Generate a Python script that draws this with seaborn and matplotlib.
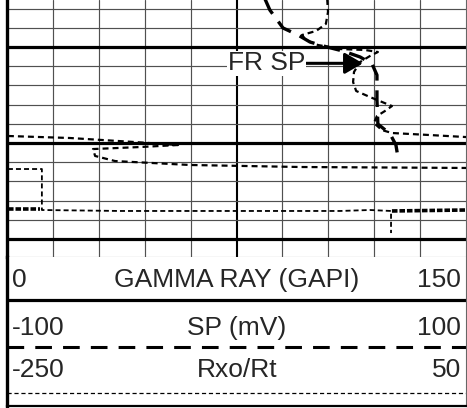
import matplotlib
matplotlib.use("Agg")
import matplotlib.pyplot as plt
import seaborn as sns
import pandas as pd

# ------------------------------------------------------------
# data (track x in gamma ray units 0-150, depth in ft)
# ------------------------------------------------------------
gr_upper_x = [104.6, 104.9, 104.2, 101.0, 96.4, 97.7, 101.6, 108.8, 117.0, 121.2,
              118.6, 115.4, 113.4, 113.1, 114.1, 118.6, 125.8, 123.5, 120.9, 119.9,
              122.5, 125.8, 138.2, 150.0]
gr_upper_depth = [5344.79, 5346.35, 5347.60, 5348.33, 5348.75, 5349.27, 5349.79, 5350.21,
                  5350.31, 5350.52, 5350.94, 5351.56, 5352.60, 5353.65, 5354.58, 5355.21,
                  5356.15, 5356.67, 5357.19, 5357.92, 5358.65, 5358.96, 5359.17, 5359.38]

# gamma ray wrapped onto backup scale
gr_wrap_x = [0.3, 20.6, 41.8, 55.9, 43.5, 28.1, 28.8, 35.3, 59.8, 95.8, 150.0]
gr_wrap_depth = [5359.27, 5359.48, 5359.90, 5360.21, 5360.42, 5360.63, 5361.35,
                 5361.88, 5362.29, 5362.50, 5362.60]

sp_x = [83.3, 85.9, 90.2, 95.1, 99.0, 104.6, 109.8, 115.4, 119.3, 120.9, 120.9,
        121.2, 125.2, 127.1, 127.8]
sp_depth = [5344.27, 5346.15, 5348.02, 5348.75, 5349.48, 5350.00, 5350.42, 5351.04,
            5351.77, 5352.92, 5355.52, 5358.02, 5359.06, 5360.21, 5361.56]

rxo_x = [0.3, 11.4, 11.4, 36.9, 79.4, 108.8, 118.6, 125.5, 125.5]
rxo_depth = [5362.71, 5362.71, 5366.98, 5367.08, 5367.08, 5367.08, 5366.98,
             5367.08, 5369.38]

# overlapping (heavy) pieces
heavy_left_x = [0.3, 10.8]
heavy_left_depth = [5366.88, 5366.88]
heavy_right_x = [125.8, 150.0]
heavy_right_depth = [5367.08, 5366.98]

fr_sp_label = "FR SP"
fr_sp_text_x, fr_sp_tip_x, fr_sp_depth = 72.2, 116.3, 5351.7

scale_titles = ["GAMMA RAY (GAPI)", "SP (mV)", "Rxo/Rt"]
scale_left = ["0", "-100", "-250"]
scale_right = ["150", "100", "50"]

# ------------------------------------------------------------
sns.set_style("white")
plt.rcParams["font.family"] = ["Liberation Sans", "DejaVu Sans"]
plt.rcParams["lines.scale_dashes"] = False

fig = plt.figure(figsize=(4.67, 4.08), dpi=100)
W, H = 467.0, 408.0
ax = fig.add_axes([7 / W, 1 - 257 / H, 459 / W, 257 / H])
hd = fig.add_axes([7 / W, 1 - 406 / H, 459 / W, 149 / H])

# track grid
ax.set_xlim(0, 150)
ax.set_ylim(5371.875, 5345.104)
ax.set_xticks([75])
ax.set_xticks(range(15, 150, 15), minor=True)
ax.set_yticks([5350, 5360, 5370])
ax.set_yticks(range(5346, 5372, 2), minor=True)
ax.grid(which="minor", color="#505050", lw=0.85)
ax.grid(which="major", axis="x", color="black", lw=1.5)
ax.grid(which="major", axis="y", color="black", lw=2.3)
ax.tick_params(which="both", length=0, labelleft=False, labelbottom=False)
ax.set_axisbelow(True)

def curve(x, y, lw, dash):
    sns.lineplot(x=x, y=y, ax=ax, sort=False, estimator=None, color="black",
                 lw=lw, linestyle=(0, dash), zorder=3)

curve(gr_upper_x, gr_upper_depth, 1.6, (4.3, 2.9))
curve(gr_wrap_x, gr_wrap_depth, 1.6, (4.3, 2.9))
curve(sp_x, sp_depth, 2.4, (12, 7))
curve(rxo_x, rxo_depth, 1.3, (3.6, 2.2))
curve(heavy_left_x, heavy_left_depth, 2.6, (4.0, 1.4))
curve(heavy_right_x, heavy_right_depth, 2.6, (4.0, 1.4))
ax.set_xlabel("")
ax.set_ylabel("")

ax.annotate(fr_sp_label, xy=(fr_sp_tip_x, fr_sp_depth), xytext=(fr_sp_text_x, fr_sp_depth),
            ha="left", va="center", fontsize=19, zorder=5,
            bbox=dict(facecolor="white", edgecolor="none", pad=0.5),
            arrowprops=dict(arrowstyle="-|>,head_length=0.55,head_width=0.32",
                            mutation_scale=20, lw=2.2, color="black",
                            shrinkA=0, shrinkB=0))

ax.spines["top"].set_visible(False)
ax.spines["left"].set_linewidth(2.4)
ax.spines["left"].set_color("black")
for side in ["right", "bottom"]:
    ax.spines[side].set_linewidth(0.8)
    ax.spines[side].set_color("#666666")

# header
hd.set_xlim(7, 466)
hd.set_ylim(406, 257)
hd.set_xticks([])
hd.set_yticks([])
hd.spines["top"].set_visible(False)
hd.spines["left"].set_linewidth(2.4)
hd.spines["left"].set_color("black")
hd.spines["right"].set_linewidth(0.8)
hd.spines["right"].set_color("#666666")
hd.spines["bottom"].set_linewidth(1.6)
hd.spines["bottom"].set_color("black")

baselines = [287, 335, 377]
for t, l, r, yb in zip(scale_titles, scale_left, scale_right, baselines):
    hd.text(12, yb, l, ha="left", va="baseline", fontsize=19)
    hd.text(237, yb, t, ha="center", va="baseline", fontsize=19)
    hd.text(461, yb, r, ha="right", va="baseline", fontsize=19)

hd.plot([7, 466], [300, 300], color="black", lw=2.3)
hd.plot([7, 466], [347, 347], color="black", lw=2.2, linestyle=(0, (12, 8)))
hd.plot([7, 466], [393, 393], color="black", lw=0.9, linestyle=(0, (3, 2)))

fig.savefig("out.png", dpi=100)
